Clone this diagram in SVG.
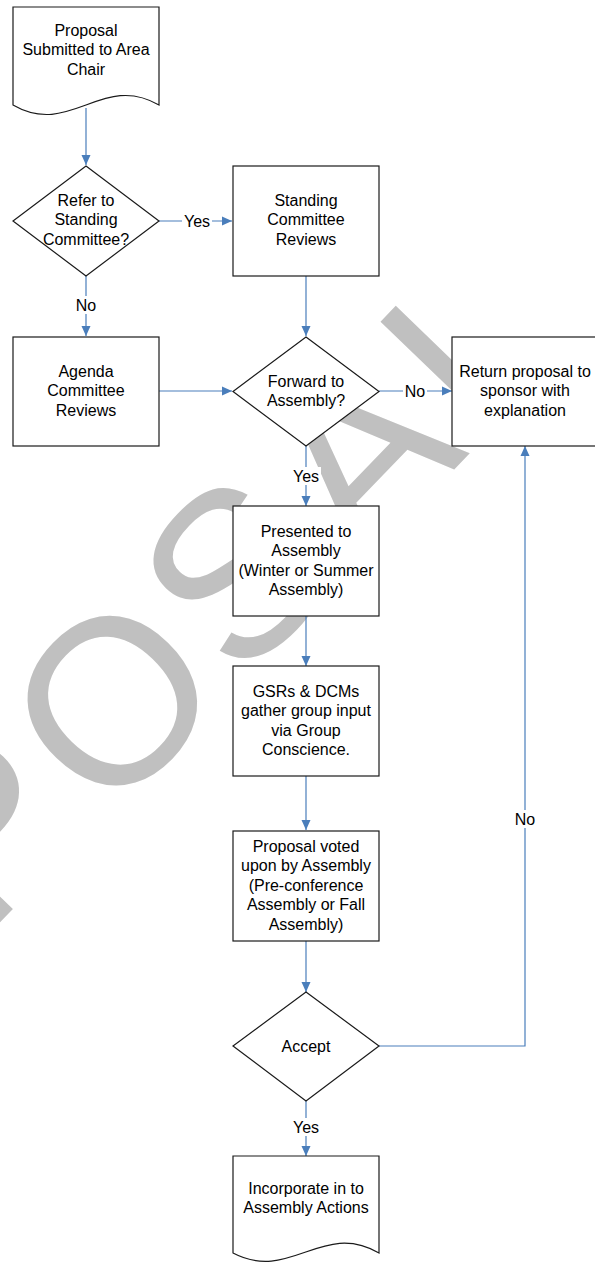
<svg xmlns="http://www.w3.org/2000/svg" width="595" height="1264" viewBox="0 0 595 1264">
<style>
.shape{fill:#fff;stroke:#1a1a1a;stroke-width:1.2}
.t{font-family:"Liberation Sans",Arial,sans-serif;font-size:16px;fill:#000;text-anchor:middle}
.wm{font-family:"Liberation Sans",Arial,sans-serif;font-size:235px;fill:#c0c0c0;text-anchor:middle}
.c{fill:none;stroke:#4a7ebb;stroke-width:1.2}
.lb{fill:#fff}
</style>
<defs>
<marker id="ah" markerWidth="10" markerHeight="10" viewBox="0 0 10 10" refX="10" refY="5" orient="auto" markerUnits="userSpaceOnUse">
<path d="M0,0.5 L10,5 L0,9.5 Z" fill="#4a7ebb"/>
</marker>
</defs>
<rect width="595" height="1264" fill="#fff"/>
<g id="watermark" transform="translate(171,757) rotate(-46)">
<text class="wm" x="-182" y="-8">P</text>
<text class="wm" x="0" y="0">O</text>
<text class="wm" x="178" y="0">S</text>
<text class="wm" x="348" y="4">A</text>
<text class="wm" x="505" y="10">L</text>
</g>
<g id="connectors">
<path class="c" d="M86,108 V165" marker-end="url(#ah)"/>
<path class="c" d="M159,221 H232" marker-end="url(#ah)"/>
<path class="c" d="M86,276 V336" marker-end="url(#ah)"/>
<path class="c" d="M306,276 V336" marker-end="url(#ah)"/>
<path class="c" d="M159,391 H232" marker-end="url(#ah)"/>
<path class="c" d="M379,391 H452" marker-end="url(#ah)"/>
<path class="c" d="M306,446 V506" marker-end="url(#ah)"/>
<path class="c" d="M306,616 V666" marker-end="url(#ah)"/>
<path class="c" d="M306,776 V830" marker-end="url(#ah)"/>
<path class="c" d="M306,941 V992" marker-end="url(#ah)"/>
<path class="c" d="M379,1046 H525 V446" marker-end="url(#ah)"/>
<path class="c" d="M306,1101 V1156" marker-end="url(#ah)"/>
<rect class="lb" x="182" y="212" width="30" height="18"/>
<text class="t" x="197" y="226.5">Yes</text>
<rect class="lb" x="74" y="296" width="24" height="18"/>
<text class="t" x="86" y="310.5">No</text>
<rect class="lb" x="403" y="382" width="24" height="18"/>
<text class="t" x="415" y="397">No</text>
<rect class="lb" x="291" y="467" width="30" height="18"/>
<text class="t" x="306" y="481.5">Yes</text>
<rect class="lb" x="513" y="810" width="24" height="18"/>
<text class="t" x="525" y="824.5">No</text>
<rect class="lb" x="291" y="1118" width="30" height="18"/>
<text class="t" x="306" y="1132.5">Yes</text>
</g>
<g id="n1">
<path class="shape" d="M13,105 V7 H159 V105 C102,72 70,138 13,105 Z"/>
<text class="t" x="86" y="35.5">Proposal</text>
<text class="t" x="86" y="55">Submitted to Area</text>
<text class="t" x="86" y="74.5">Chair</text>
</g>
<g id="n2">
<path class="shape" d="M86,166 L159,221 L86,276 L13,221 Z"/>
<text class="t" x="86" y="205.5">Refer to</text>
<text class="t" x="86" y="225">Standing</text>
<text class="t" x="86" y="244.5">Committee?</text>
</g>
<g id="n3">
<rect class="shape" x="233" y="166" width="146" height="110"/>
<text class="t" x="306" y="205.5">Standing</text>
<text class="t" x="306" y="225">Committee</text>
<text class="t" x="306" y="244.5">Reviews</text>
</g>
<g id="n4">
<rect class="shape" x="13" y="337" width="146" height="109"/>
<text class="t" x="86" y="376.5">Agenda</text>
<text class="t" x="86" y="396">Committee</text>
<text class="t" x="86" y="415.5">Reviews</text>
</g>
<g id="n5">
<path class="shape" d="M306,337 L379,391.5 L306,446 L233,391.5 Z"/>
<text class="t" x="306" y="386.5">Forward to</text>
<text class="t" x="306" y="406">Assembly?</text>
</g>
<g id="n6">
<rect class="shape" x="452" y="337" width="146" height="109"/>
<text class="t" x="525" y="376.5">Return proposal to</text>
<text class="t" x="525" y="396">sponsor with</text>
<text class="t" x="525" y="415.5">explanation</text>
</g>
<g id="n7">
<rect class="shape" x="233" y="506" width="146" height="110"/>
<text class="t" x="306" y="536.5">Presented to</text>
<text class="t" x="306" y="556">Assembly</text>
<text class="t" x="306" y="575.5">(Winter or Summer</text>
<text class="t" x="306" y="595">Assembly)</text>
</g>
<g id="n8">
<rect class="shape" x="233" y="666" width="146" height="110"/>
<text class="t" x="306" y="696.5">GSRs &amp; DCMs</text>
<text class="t" x="306" y="716">gather group input</text>
<text class="t" x="306" y="735.5">via Group</text>
<text class="t" x="306" y="755">Conscience.</text>
</g>
<g id="n9">
<rect class="shape" x="233" y="831" width="146" height="110"/>
<text class="t" x="306" y="851.5">Proposal voted</text>
<text class="t" x="306" y="871">upon by Assembly</text>
<text class="t" x="306" y="890.5">(Pre-conference</text>
<text class="t" x="306" y="910">Assembly or Fall</text>
<text class="t" x="306" y="929.5">Assembly)</text>
</g>
<g id="n10">
<path class="shape" d="M306,992 L379,1046 L306,1101 L233,1046 Z"/>
<text class="t" x="306" y="1051.5">Accept</text>
</g>
<g id="n11">
<path class="shape" d="M233,1253 V1156 H379 V1253 C322,1220 290,1283 233,1253 Z"/>
<text class="t" x="306" y="1193.5">Incorporate in to</text>
<text class="t" x="306" y="1213">Assembly Actions</text>
</g>
</svg>
